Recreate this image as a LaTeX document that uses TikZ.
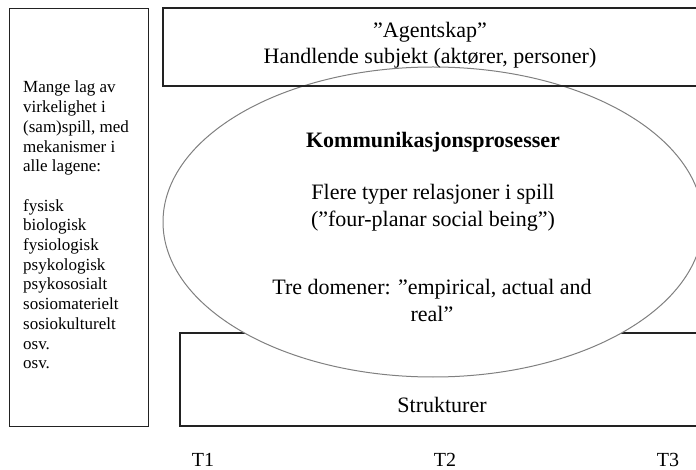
\documentclass[tikz,border=0pt]{standalone}
\usepackage{fontspec}
\setmainfont{Liberation Serif}
\usetikzlibrary{shapes.geometric}
\definecolor{boxline}{HTML}{222222}
\definecolor{ovalline}{HTML}{808080}
\tikzset{
  frame/.style={draw=boxline, line width=1.3pt},
  oval/.style={draw=ovalline, line width=1pt, fill=white, ellipse, inner sep=0pt},
  maintext/.style={font=\fontsize{22}{27}\selectfont, align=center, inner sep=0pt},
  sidetext/.style={font=\fontsize{17}{19.7}\selectfont, align=left, inner sep=0pt},
  timetext/.style={font=\fontsize{20}{24}\selectfont, inner sep=0pt}
}
\begin{document}
\begin{tikzpicture}[x=1pt, y=-1pt]
  \useasboundingbox (0,0) rectangle (696,470);

  % left column: layers of reality
  \node[frame, minimum width=139pt, minimum height=418pt, inner sep=0pt, anchor=north west] (layers) at (9,8) {};
  \node[sidetext, anchor=north west] (layerstext) at (23,81)
    {Mange lag av\\virkelighet i\\(sam)spill, med\\mekanismer i\\alle lagene:\\[19.7pt]fysisk\\biologisk\\fysiologisk\\psykologisk\\psykososialt\\sosiomaterielt\\sosiokulturelt\\osv.\\osv.};

  % structures: open band along the bottom
  \coordinate (sA) at (700,333);
  \coordinate (sB) at (180,333);
  \coordinate (sC) at (180,426);
  \coordinate (sD) at (700,426);
  \draw[frame] (sA) -- (sB) -- (sC) -- (sD);

  % communication processes
  \node[oval, minimum width=540pt, minimum height=310pt] (proc) at (433,222) {};

  % agency: open band along the top
  \coordinate (aA) at (700,8);
  \coordinate (aB) at (163,8);
  \coordinate (aC) at (163,86);
  \coordinate (aD) at (700,86);
  \draw[frame] (aA) -- (aB) -- (aC) -- (aD);

  \node[maintext, font=\fontsize{22}{26}\selectfont] (agency) at (430,45) {”Agentskap”\\Handlende subjekt (aktører, personer)};
  \node[maintext, font=\fontsize{22}{27}\selectfont\bfseries] (komm) at (433,142) {Kommunikasjonsprosesser};
  \node[maintext] (rel) at (433,208) {Flere typer relasjoner i spill\\(”four-planar social being”)};
  \node[maintext] (dom) at (432,300) {Tre domener: ”empirical, actual and\\real”};
  \node[maintext] (struct) at (442,405) {Strukturer};

  % time axis
  \node[timetext] (t1) at (203,460) {T1};
  \node[timetext] (t2) at (445,460) {T2};
  \node[timetext] (t3) at (668,460) {T3};
\end{tikzpicture}
\end{document}
